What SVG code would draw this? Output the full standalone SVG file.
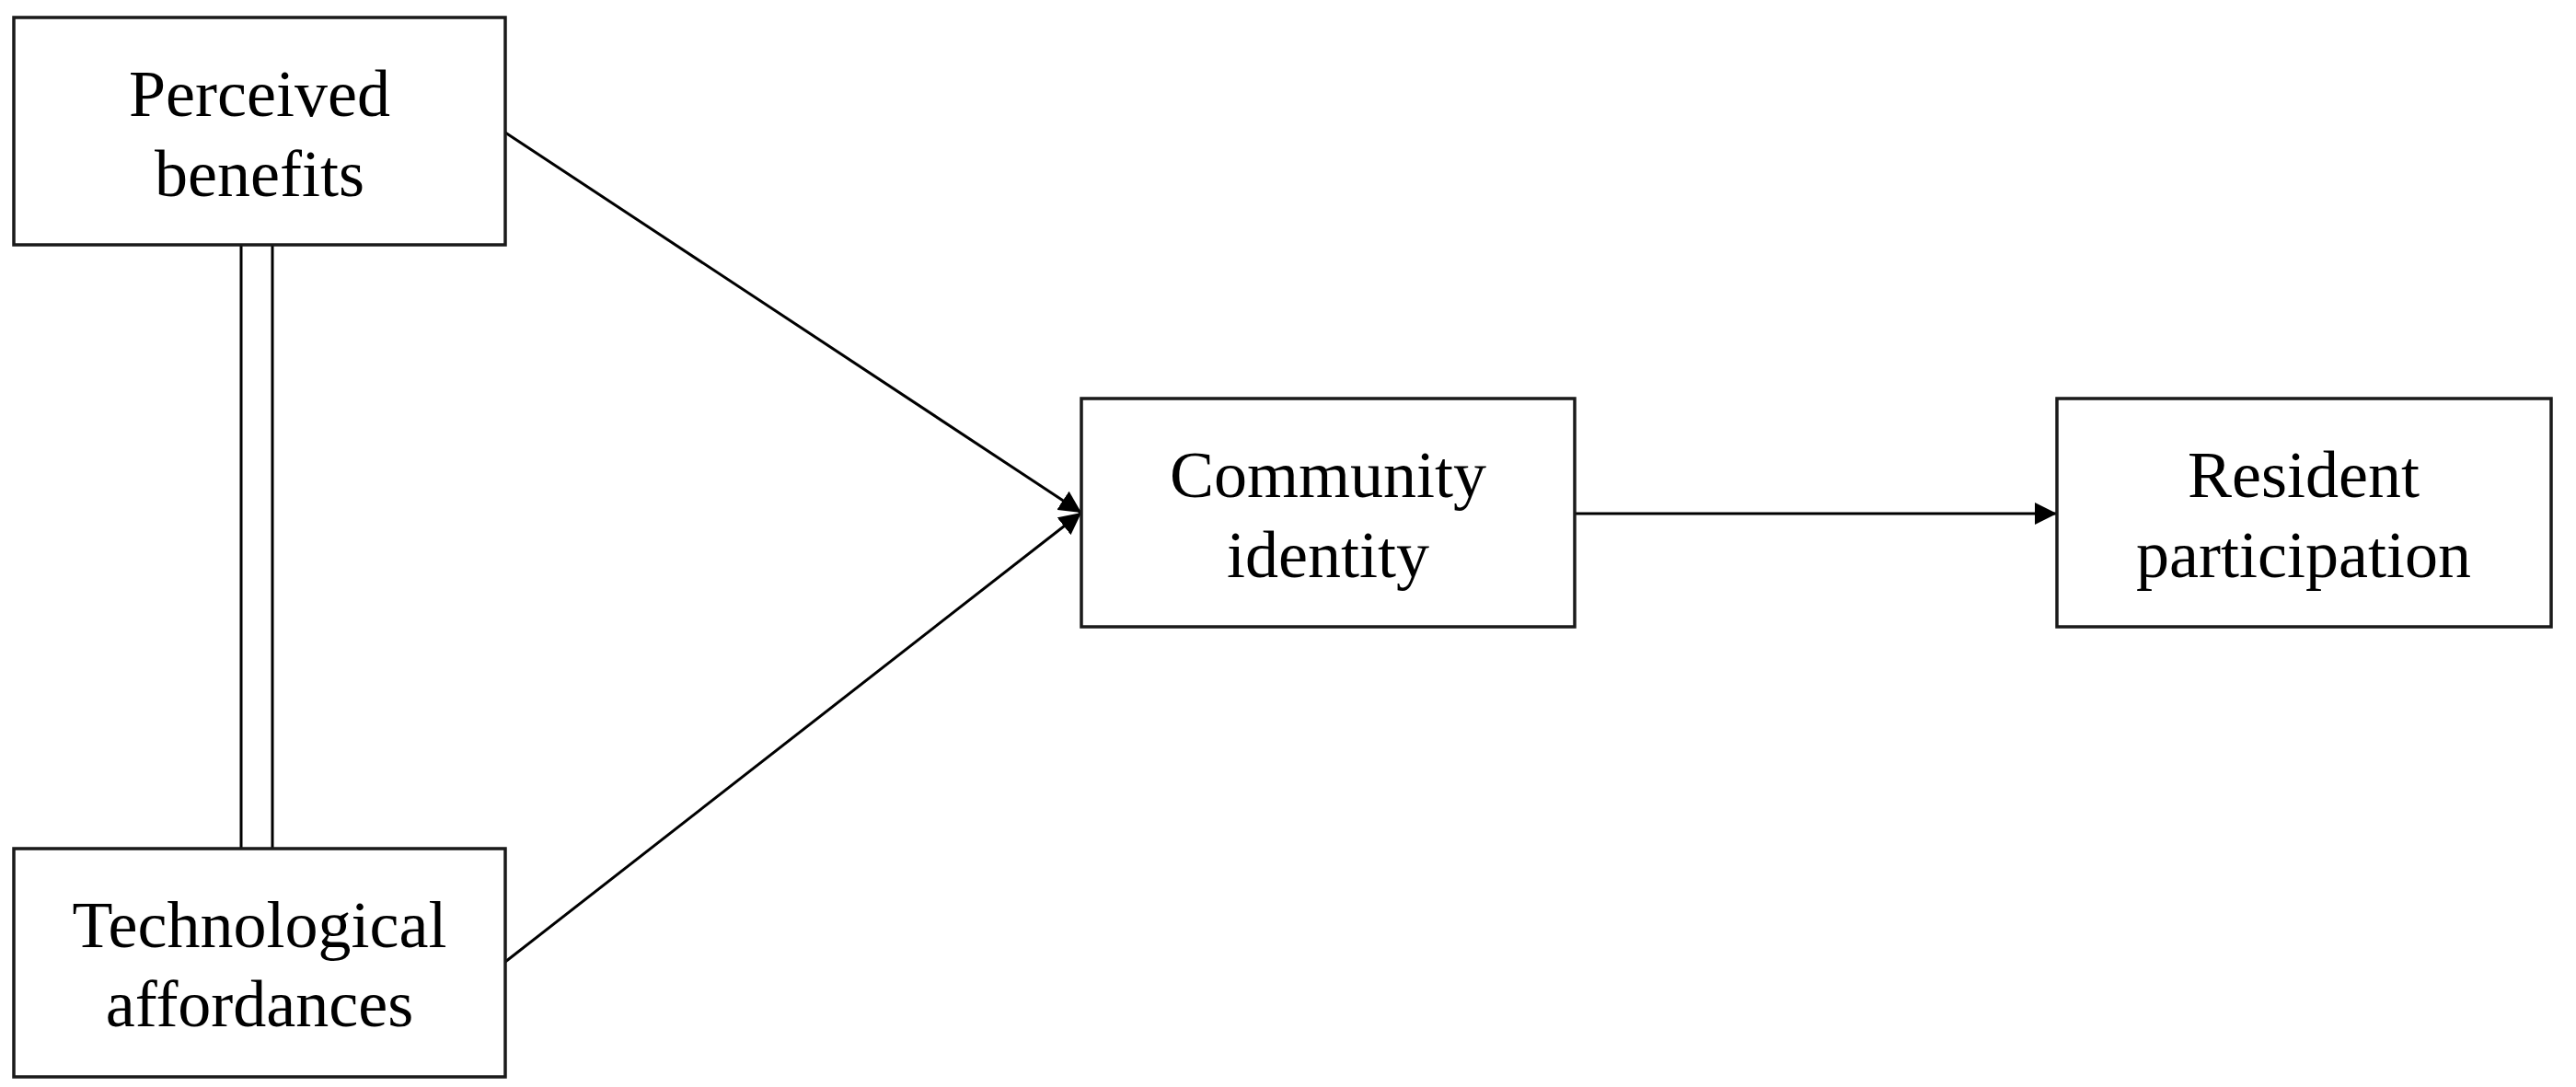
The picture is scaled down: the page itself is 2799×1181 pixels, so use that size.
<svg xmlns="http://www.w3.org/2000/svg" width="2799" height="1181" viewBox="0 0 2799 1181">
<style>
.box{fill:#fff;stroke:#1a1a1a;stroke-width:3.5}
.lbl{font-family:"Liberation Serif","Times New Roman",serif;font-size:72px;fill:#000;text-anchor:middle}
.con{stroke:#000;stroke-width:3;fill:none}
</style>
<defs>
<marker id="ah" viewBox="0 0 24 24" refX="24" refY="12" markerWidth="24" markerHeight="24" markerUnits="userSpaceOnUse" orient="auto">
<path d="M0,0 L24,12 L0,24 Z" fill="#000"/>
</marker>
</defs>
<rect width="2799" height="1181" fill="#fff"/>
<g id="connectors">
<line class="con" x1="262" y1="266" x2="262" y2="922"/>
<line class="con" x1="296" y1="266" x2="296" y2="922"/>
<line class="con" x1="549" y1="144" x2="1175" y2="557" marker-end="url(#ah)"/>
<line class="con" x1="549" y1="1045" x2="1175" y2="557" marker-end="url(#ah)"/>
<line class="con" x1="1711" y1="558" x2="2235" y2="558" marker-end="url(#ah)"/>
</g>
<g id="perceived-benefits">
<rect class="box" x="15" y="19" width="534" height="247"/>
<text class="lbl" x="282" y="126">Perceived</text>
<text class="lbl" x="282" y="213">benefits</text>
</g>
<g id="technological-affordances">
<rect class="box" x="15" y="922" width="534" height="248"/>
<text class="lbl" x="282" y="1029">Technological</text>
<text class="lbl" x="282" y="1115">affordances</text>
</g>
<g id="community-identity">
<rect class="box" x="1175" y="433" width="536" height="248"/>
<text class="lbl" x="1443" y="540">Community</text>
<text class="lbl" x="1443" y="627">identity</text>
</g>
<g id="resident-participation">
<rect class="box" x="2235" y="433" width="537" height="248"/>
<text class="lbl" x="2503" y="540">Resident</text>
<text class="lbl" x="2503" y="627">participation</text>
</g>
</svg>
